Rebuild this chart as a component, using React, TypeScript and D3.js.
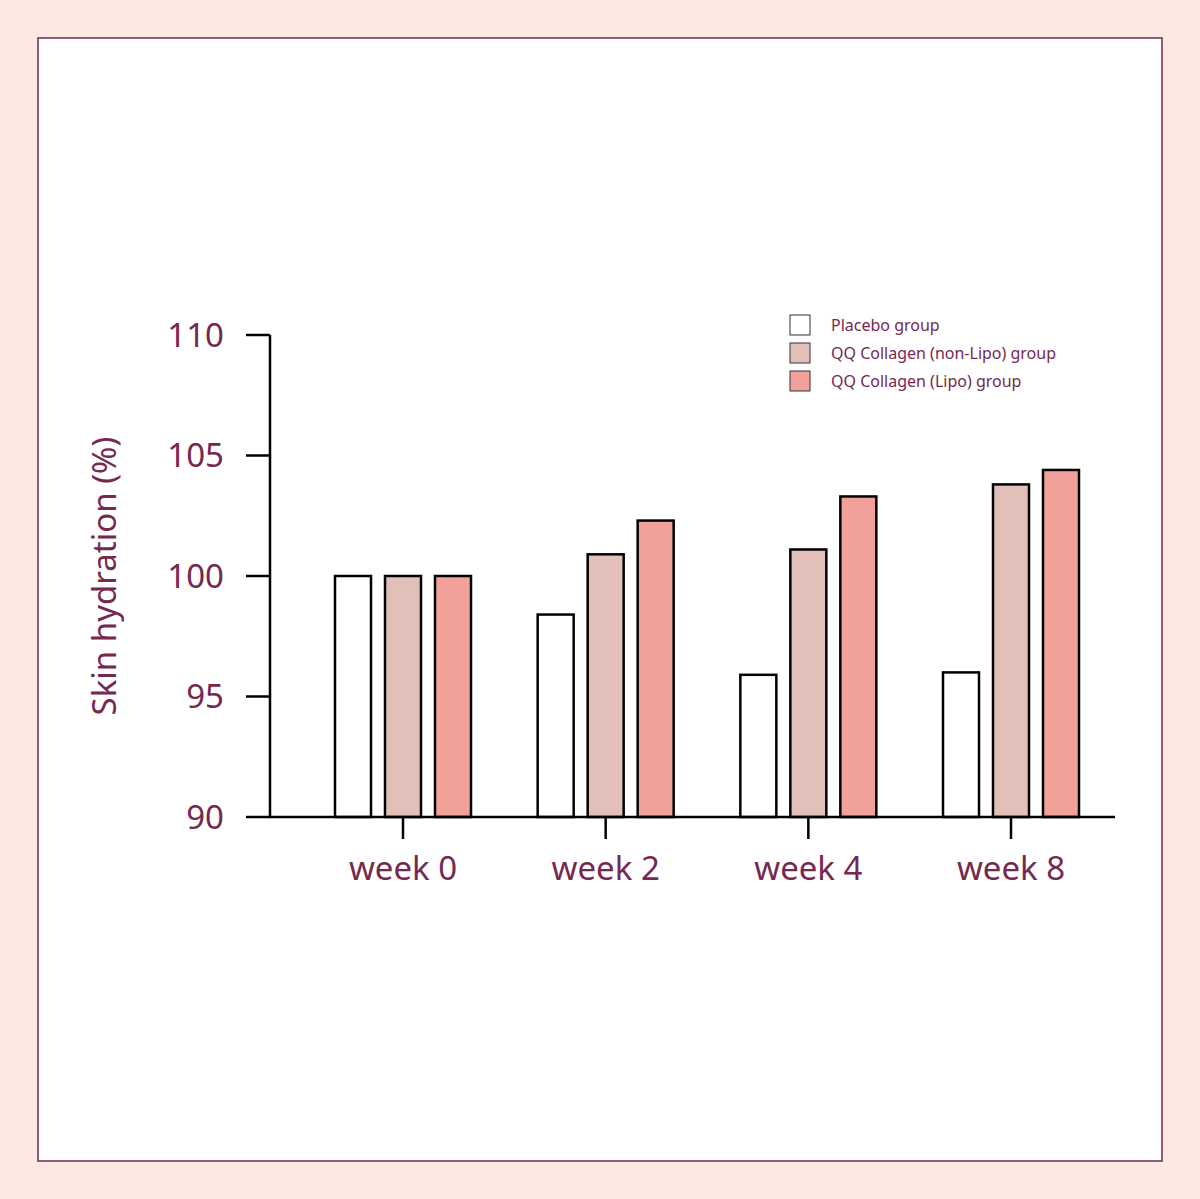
import * as d3 from 'd3';

const categories = ['week 0', 'week 2', 'week 4', 'week 8'];
const seriesNames = ['Placebo group', 'QQ Collagen (non-Lipo) group', 'QQ Collagen (Lipo) group'];
const placebo = [100, 98.4, 95.9, 96.0];
const nonLipo = [100, 100.9, 101.1, 103.8];
const lipo = [100, 102.3, 103.3, 104.4];
const yTicks = [90, 95, 100, 105, 110];

const colors = ['#ffffff', '#e3bfb9', '#f2a09a'];
const textColor = '#76284f';
const font = '"Noto Sans", sans-serif';

function App() {
	const values = [placebo, nonLipo, lipo];
	const y = d3.scaleLinear().domain([90, 110]).range([817, 335]);
	const x = d3.scalePoint<string>().domain(categories).range([403, 1011]);
	const inner = d3.scaleBand<number>().domain([0, 1, 2]).range([-68, 68]).paddingInner(0.28);

	return (
		<svg width={1200} height={1199} style={{ position: 'absolute', left: 0, top: 0 }}>
			<rect x={0} y={0} width={1200} height={1199} fill='#fde8e3' />
			<rect x={38} y={38} width={1124} height={1123} fill='#ffffff' stroke='#6b2a50' strokeWidth={1.5} />

			{/* bars */}
			{categories.map((c, i) =>
				values.map((s, k) => (
					<rect
						key={c + k}
						x={(x(c) ?? 0) + (inner(k) ?? 0)}
						y={y(s[i])}
						width={inner.bandwidth()}
						height={y(90) - y(s[i])}
						fill={colors[k]}
						stroke='#000'
						strokeWidth={2.5}
					/>
				))
			)}

			{/* axes */}
			<line x1={270} x2={270} y1={y(110)} y2={y(90)} stroke='#000' strokeWidth={2.5} />
			<line x1={268.75} x2={1115} y1={y(90)} y2={y(90)} stroke='#000' strokeWidth={2.5} />
			{yTicks.map((t) => (
				<g key={t}>
					<line x1={246} x2={270} y1={y(t)} y2={y(t)} stroke='#000' strokeWidth={2.5} />
					<text x={224} y={y(t)} dy='0.35em' textAnchor='end' fill={textColor} fontFamily={font} fontSize={33}>
						{t}
					</text>
				</g>
			))}
			{categories.map((c) => (
				<g key={c}>
					<line x1={x(c)} x2={x(c)} y1={y(90)} y2={y(90) + 22} stroke='#000' strokeWidth={2.5} />
					<text x={x(c)} y={880} textAnchor='middle' fill={textColor} fontFamily={font} fontSize={33}>
						{c}
					</text>
				</g>
			))}
			<text
				transform='translate(116,576) rotate(-90)'
				textAnchor='middle'
				fill={textColor}
				fontFamily={font}
				fontSize={33}
			>
				Skin hydration (%)
			</text>

			{/* legend */}
			{seriesNames.map((n, k) => (
				<g key={n} transform={`translate(790,${315 + k * 28})`}>
					<rect width={20} height={20} fill={colors[k]} stroke='#333' strokeWidth={1} />
					<text x={41} y={10} dy='0.35em' fill={textColor} fontFamily={font} fontSize={16}>
						{n}
					</text>
				</g>
			))}
		</svg>
	);
}

export default App;
